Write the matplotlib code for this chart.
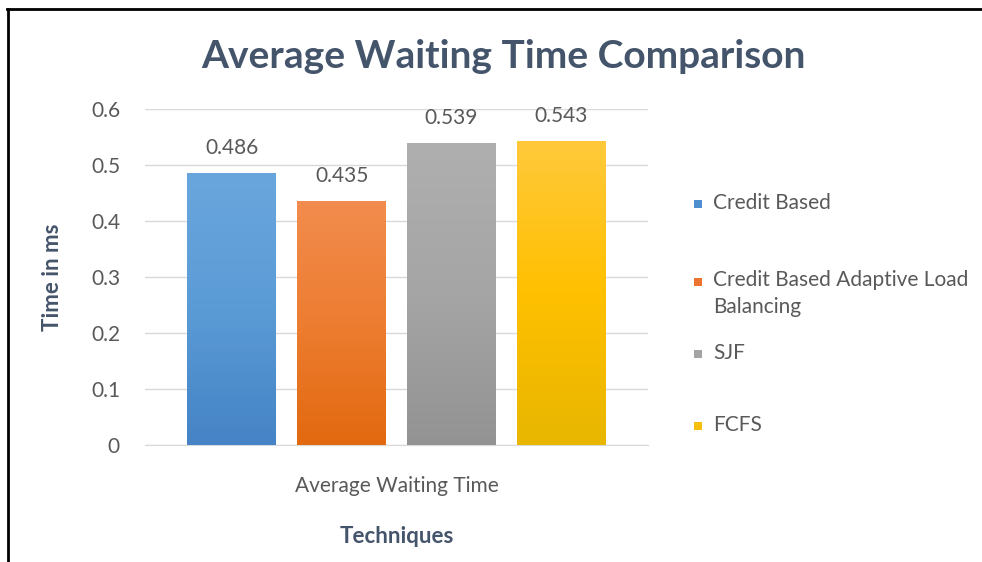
import matplotlib
matplotlib.use("Agg")
import matplotlib.pyplot as plt
import numpy as np
from matplotlib.patches import Rectangle
from matplotlib.colors import LinearSegmentedColormap

plt.rcParams['font.family'] = ['Lato', 'DejaVu Sans']

categories = ["Average Waiting Time"]
series = ["Credit Based", "Credit Based Adaptive Load\nBalancing", "SJF", "FCFS"]
values = [0.486, 0.435, 0.539, 0.543]
yticks = [0, 0.1, 0.2, 0.3, 0.4, 0.5, 0.6]
ytick_labels = ["0", "0.1", "0.2", "0.3", "0.4", "0.5", "0.6"]
colors_top = ["#6aa6de", "#f28c4e", "#afafaf", "#ffc93c"]
colors_mid = ["#5b9bd5", "#ed7d31", "#a5a5a5", "#ffc000"]
colors_bot = ["#4583c6", "#e2690f", "#939393", "#e8b600"]
legend_colors = ["#4f8fd0", "#ec7330", "#a5a5a5", "#f7bf10"]

W, H = 982, 562
fig = plt.figure(figsize=(W / 100, H / 100), dpi=100)
fig.patch.set_facecolor("white")

FS = 15

# axes in pixel coordinates
left, right, top, bottom = 145, 648, 109, 445
ax = fig.add_axes([left / W, 1 - bottom / H, (right - left) / W, (bottom - top) / H])

n = len(values)
offsets = np.arange(n) - (n - 1) / 2
width = 0.81
bars = ax.bar(offsets, values, width=width, color=colors_mid, zorder=2)

for b, ct, cm, cb in zip(bars, colors_top, colors_mid, colors_bot):
    cmap = LinearSegmentedColormap.from_list("g", [cb, cm, ct])
    x0, y0 = b.get_x(), b.get_y()
    w, h = b.get_width(), b.get_height()
    grad = np.linspace(0, 1, 256).reshape(-1, 1)
    im = ax.imshow(grad, cmap=cmap, aspect="auto", origin="lower",
                   extent=[x0, x0 + w, y0, y0 + h], zorder=3)
    im.set_clip_path(b)

for b, v in zip(bars, values):
    ax.annotate(f"{v:.3f}", (b.get_x() + b.get_width() / 2, v),
                xytext=(0, 18), textcoords="offset points",
                ha="center", va="center", fontsize=FS, color="#595959")

ax.set_xlim(offsets[0] - 0.79, offsets[-1] + 0.79)
ax.set_ylim(0, 0.6)
ax.set_yticks(yticks)
ax.set_yticklabels(ytick_labels, fontsize=FS, color="#595959")
ax.set_xticks([0])
ax.set_xticklabels(categories, fontsize=FS, color="#595959")
ax.tick_params(axis="both", length=0)
ax.tick_params(axis="y", pad=18)
ax.tick_params(axis="x", pad=22)
ax.grid(axis="y", color="#d9d9d9", linewidth=1, zorder=0)
ax.set_axisbelow(True)
for s in ["top", "right", "left"]:
    ax.spines[s].set_visible(False)
ax.spines["bottom"].set_color("#d9d9d9")
ax.set_xlabel("Techniques", fontsize=16, fontweight="bold", color="#44546a", labelpad=22)
ax.set_ylabel("Time in ms", fontsize=16, fontweight="bold", color="#44546a", labelpad=20)

fig.text(503 / W, 1 - 57 / H, "Average Waiting Time Comparison", ha="center", va="center",
         fontsize=28, fontweight="bold", color="#44546a")

# legend (Excel-style, placed beside the plot)
leg_y = [204, 282, 354, 426]
for c, lab, yy in zip(legend_colors, series, leg_y):
    fig.add_artist(Rectangle((694 / W, 1 - (yy + 4) / H), 8 / W, 8 / H,
                             transform=fig.transFigure, facecolor=c, edgecolor="none"))
    if "\n" in lab:
        first, second = lab.split("\n")
        fig.text(713 / W, 1 - (yy - 2) / H, first, ha="left", va="center", fontsize=FS, color="#595959")
        fig.text(713 / W, 1 - (yy + 25) / H, second, ha="left", va="center", fontsize=FS, color="#595959")
    else:
        fig.text(713 / W, 1 - (yy - 1) / H, lab, ha="left", va="center", fontsize=FS, color="#595959")

# frame lines of the embedded chart
fig.add_artist(plt.Line2D([7 / W, 1], [1 - 9 / H, 1 - 9 / H], transform=fig.transFigure,
                          color="black", linewidth=2))
fig.add_artist(plt.Line2D([8 / W, 8 / W], [1 - 9 / H, 0], transform=fig.transFigure,
                          color="black", linewidth=2))

fig.savefig("out.png", dpi=100, facecolor="white")
